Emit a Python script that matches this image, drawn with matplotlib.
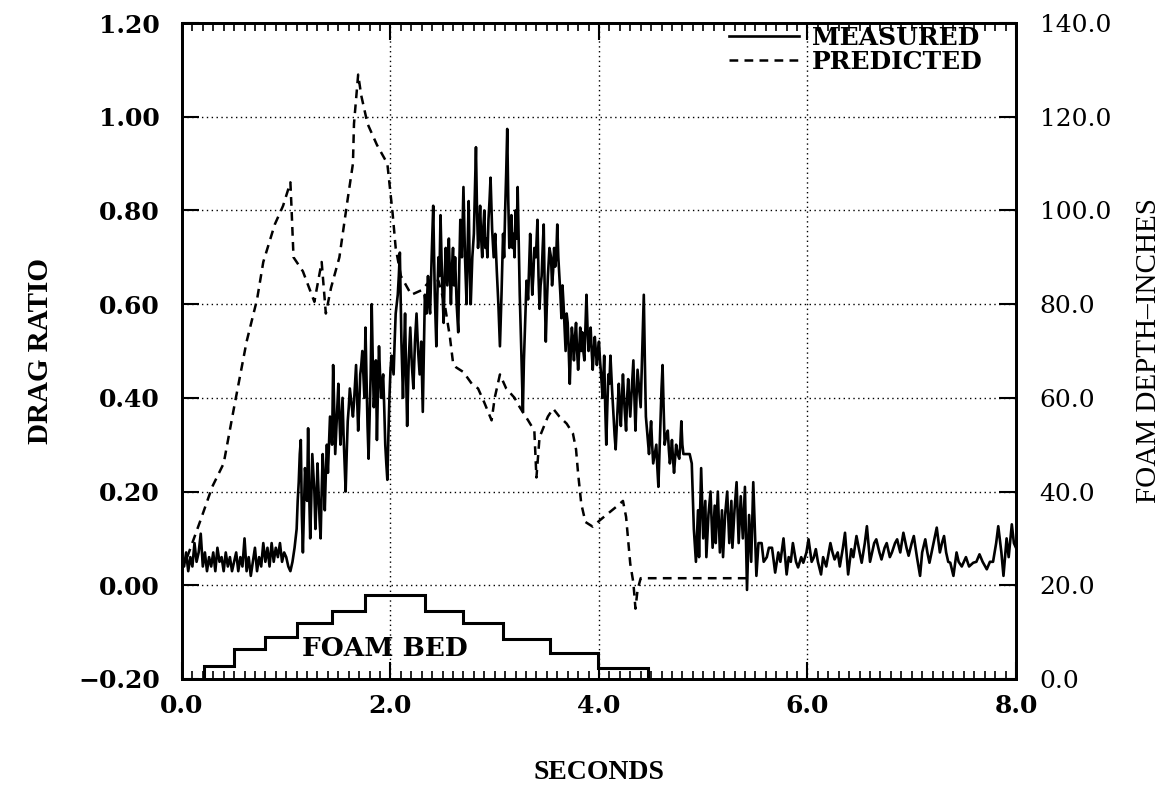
import numpy as np
import matplotlib
matplotlib.use("Agg")
import matplotlib.pyplot as plt
from matplotlib.ticker import MultipleLocator, FormatStrFormatter, FuncFormatter

# measured drag ratio in four stretches
baseline_t = [
    0.00, 0.02, 0.04, 0.06, 0.08, 0.10, 0.12, 0.14, 0.16, 0.18, 0.20, 0.22, 0.24, 0.26,
    0.28, 0.30, 0.32, 0.34, 0.36, 0.38, 0.40, 0.42, 0.44, 0.46, 0.48, 0.50, 0.52, 0.54,
    0.56, 0.58, 0.60, 0.62, 0.64, 0.66, 0.68, 0.70, 0.72, 0.74, 0.76, 0.78, 0.80, 0.82,
    0.84, 0.86, 0.88, 0.90, 0.92, 0.94, 0.96, 0.98, 1.00, 1.02, 1.04, 1.06, 1.08, 1.10,
]
baseline_drag = [
    0.06, 0.04, 0.07, 0.03, 0.06, 0.04, 0.09, 0.05, 0.07, 0.11, 0.04, 0.07, 0.03, 0.06,
    0.04, 0.07, 0.03, 0.08, 0.05, 0.06, 0.03, 0.07, 0.04, 0.06, 0.03, 0.05, 0.07, 0.03,
    0.06, 0.04, 0.10, 0.03, 0.06, 0.02, 0.05, 0.08, 0.03, 0.06, 0.04, 0.09, 0.05, 0.08,
    0.04, 0.09, 0.05, 0.08, 0.06, 0.09, 0.05, 0.07, 0.06, 0.04, 0.03, 0.05, 0.08, 0.12,
]

rise_t = [
    1.11, 1.12, 1.13, 1.14, 1.15, 1.16, 1.17, 1.18, 1.19, 1.20,
    1.21, 1.22, 1.23, 1.24, 1.25, 1.26, 1.27, 1.28, 1.29, 1.30,
    1.31, 1.32, 1.33, 1.34, 1.35, 1.36, 1.37, 1.38, 1.39, 1.40,
    1.41, 1.42, 1.43, 1.44, 1.45, 1.46, 1.47, 1.48, 1.49, 1.50,
    1.51, 1.52, 1.53, 1.54, 1.55, 1.56, 1.57, 1.58, 1.59, 1.60,
    1.61, 1.62, 1.63, 1.64, 1.65, 1.66, 1.67, 1.68, 1.69, 1.70,
    1.71, 1.72, 1.73, 1.74, 1.75, 1.76, 1.77, 1.78, 1.79, 1.80,
    1.81, 1.82, 1.83, 1.84, 1.85, 1.86, 1.87, 1.88, 1.89, 1.90,
    1.91, 1.92, 1.93, 1.94, 1.95, 1.96, 1.97, 1.98, 1.99, 2.00,
    2.01, 2.02, 2.03, 2.04, 2.05, 2.06, 2.07, 2.08,
]
rise_drag = [
    0.18, 0.22, 0.28, 0.31, 0.15, 0.07, 0.16, 0.25, 0.22, 0.18,
    0.335, 0.20, 0.10, 0.18, 0.28, 0.24, 0.20, 0.12, 0.18, 0.26,
    0.20, 0.14, 0.10, 0.20, 0.28, 0.22, 0.16, 0.24, 0.30, 0.24,
    0.30, 0.36, 0.33, 0.30, 0.47, 0.38, 0.28, 0.33, 0.38, 0.43,
    0.36, 0.30, 0.35, 0.40, 0.32, 0.26, 0.20, 0.28, 0.35, 0.38,
    0.42, 0.40, 0.38, 0.36, 0.39, 0.43, 0.47, 0.40, 0.33, 0.38,
    0.45, 0.47, 0.50, 0.45, 0.40, 0.55, 0.44, 0.34, 0.27, 0.36,
    0.45, 0.60, 0.48, 0.38, 0.42, 0.48, 0.31, 0.42, 0.51, 0.45,
    0.40, 0.43, 0.45, 0.38, 0.30, 0.26, 0.225, 0.32, 0.40, 0.46,
    0.49, 0.47, 0.45, 0.52, 0.58, 0.60, 0.62, 0.66,
]

peak_t = [
    2.09, 2.105, 2.12, 2.13, 2.14, 2.15, 2.16, 2.175, 2.19, 2.205,
    2.22, 2.235, 2.25, 2.265, 2.28, 2.295, 2.31, 2.32, 2.33, 2.345,
    2.36, 2.37, 2.38, 2.395, 2.41, 2.425, 2.44, 2.45, 2.46, 2.47,
    2.48, 2.495, 2.51, 2.52, 2.53, 2.545, 2.56, 2.57, 2.58, 2.59,
    2.60, 2.61, 2.62, 2.635, 2.65, 2.66, 2.67, 2.685, 2.70, 2.715,
    2.73, 2.74, 2.75, 2.76, 2.77, 2.785, 2.80, 2.81, 2.82, 2.83,
    2.84, 2.85, 2.86, 2.87, 2.88, 2.89, 2.90, 2.91, 2.92, 2.93,
    2.94, 2.95, 2.96, 2.975, 2.99, 3.005, 3.02, 3.035, 3.05, 3.065,
    3.08, 3.09, 3.10, 3.11, 3.12, 3.13, 3.14, 3.15, 3.16, 3.17,
    3.18, 3.19, 3.20, 3.21, 3.22, 3.23, 3.24, 3.255, 3.27, 3.28,
    3.29, 3.305, 3.32, 3.33, 3.34, 3.35, 3.36, 3.37, 3.38, 3.395,
    3.41, 3.42, 3.43, 3.44, 3.45, 3.46, 3.47, 3.48, 3.49, 3.50,
    3.51, 3.525, 3.54, 3.55, 3.56, 3.57, 3.58, 3.59, 3.60, 3.61,
    3.62, 3.63, 3.64, 3.65, 3.66, 3.67, 3.68, 3.69, 3.70, 3.71,
    3.72, 3.73, 3.74, 3.75, 3.76, 3.77, 3.78, 3.79, 3.80, 3.81,
    3.82, 3.83, 3.84, 3.85, 3.86, 3.87, 3.88, 3.89, 3.90, 3.91,
    3.92, 3.93, 3.94, 3.95, 3.96, 3.97, 3.98, 3.99, 4.00, 4.01,
    4.02, 4.035, 4.05, 4.06, 4.07, 4.08, 4.09, 4.10, 4.11, 4.125,
    4.14, 4.15, 4.16, 4.175, 4.19, 4.20, 4.21, 4.22, 4.23, 4.245,
    4.26, 4.27, 4.28, 4.29, 4.30, 4.315, 4.33, 4.34, 4.35, 4.36,
    4.37, 4.385, 4.40, 4.415, 4.43, 4.44, 4.45, 4.465, 4.48, 4.49,
    4.50, 4.51, 4.52, 4.535, 4.55, 4.56, 4.57, 4.58, 4.59, 4.60,
    4.61, 4.62, 4.63, 4.645, 4.66, 4.67, 4.68, 4.69, 4.70, 4.71,
    4.72, 4.73, 4.74, 4.755, 4.77, 4.78, 4.79, 4.80, 4.81, 4.84,
    4.87, 4.89,
]
peak_drag = [
    0.71, 0.52, 0.40, 0.50, 0.58, 0.45, 0.34, 0.48, 0.55, 0.47,
    0.42, 0.52, 0.58, 0.50, 0.45, 0.52, 0.37, 0.50, 0.62, 0.58,
    0.66, 0.60, 0.58, 0.70, 0.81, 0.62, 0.51, 0.62, 0.70, 0.66,
    0.79, 0.65, 0.56, 0.66, 0.72, 0.64, 0.74, 0.66, 0.60, 0.68,
    0.72, 0.64, 0.70, 0.60, 0.54, 0.68, 0.78, 0.70, 0.85, 0.70,
    0.60, 0.72, 0.82, 0.68, 0.60, 0.70, 0.75, 0.84, 0.935, 0.80,
    0.72, 0.76, 0.81, 0.74, 0.70, 0.76, 0.80, 0.72, 0.74, 0.70,
    0.78, 0.82, 0.87, 0.76, 0.70, 0.75, 0.67, 0.60, 0.51, 0.62,
    0.75, 0.70, 0.80, 0.88, 0.974, 0.82, 0.72, 0.76, 0.79, 0.72,
    0.75, 0.70, 0.80, 0.74, 0.85, 0.74, 0.62, 0.50, 0.37, 0.48,
    0.55, 0.65, 0.61, 0.68, 0.75, 0.68, 0.62, 0.66, 0.72, 0.70,
    0.78, 0.66, 0.59, 0.64, 0.66, 0.72, 0.77, 0.62, 0.52, 0.60,
    0.66, 0.72, 0.70, 0.64, 0.67, 0.72, 0.68, 0.70, 0.77, 0.70,
    0.66, 0.62, 0.57, 0.64, 0.60, 0.55, 0.50, 0.58, 0.56, 0.50,
    0.43, 0.50, 0.55, 0.52, 0.48, 0.53, 0.56, 0.50, 0.46, 0.50,
    0.55, 0.50, 0.54, 0.50, 0.48, 0.55, 0.62, 0.55, 0.50, 0.53,
    0.55, 0.50, 0.46, 0.50, 0.53, 0.50, 0.47, 0.50, 0.52, 0.48,
    0.45, 0.40, 0.49, 0.38, 0.30, 0.38, 0.45, 0.43, 0.49, 0.42,
    0.36, 0.32, 0.29, 0.36, 0.43, 0.38, 0.34, 0.40, 0.45, 0.38,
    0.33, 0.40, 0.44, 0.40, 0.36, 0.42, 0.48, 0.40, 0.33, 0.40,
    0.46, 0.42, 0.38, 0.50, 0.62, 0.48, 0.36, 0.32, 0.28, 0.32,
    0.35, 0.30, 0.26, 0.28, 0.30, 0.25, 0.21, 0.28, 0.35, 0.42,
    0.47, 0.38, 0.30, 0.32, 0.33, 0.29, 0.26, 0.28, 0.31, 0.27,
    0.24, 0.27, 0.30, 0.28, 0.27, 0.30, 0.35, 0.30, 0.28, 0.28,
    0.28, 0.26,
]

tail_t = [
    4.91, 4.93, 4.95, 4.96, 4.98, 5.00, 5.02, 5.03, 5.05, 5.07, 5.09, 5.11, 5.12, 5.14,
    5.16, 5.18, 5.19, 5.21, 5.23, 5.25, 5.27, 5.28, 5.30, 5.32, 5.34, 5.36, 5.38, 5.40,
    5.42, 5.44, 5.46, 5.48, 5.51, 5.53, 5.56, 5.58, 5.61, 5.63, 5.66, 5.69, 5.72, 5.74,
    5.77, 5.80, 5.82, 5.84, 5.86, 5.89, 5.91, 5.94, 5.96, 5.99, 6.01, 6.04, 6.06, 6.08,
    6.10, 6.13, 6.15, 6.18, 6.22, 6.24, 6.26, 6.29, 6.31, 6.34, 6.36, 6.39, 6.42, 6.44,
    6.47, 6.50, 6.52, 6.55, 6.57, 6.60, 6.62, 6.64, 6.66, 6.69, 6.71, 6.74, 6.76, 6.79,
    6.81, 6.84, 6.86, 6.89, 6.92, 6.95, 6.97, 7.00, 7.02, 7.05, 7.08, 7.10, 7.13, 7.15,
    7.17, 7.20, 7.24, 7.27, 7.29, 7.31, 7.33, 7.35, 7.37, 7.40, 7.43, 7.45, 7.48, 7.50,
    7.52, 7.55, 7.59, 7.62, 7.65, 7.68, 7.72, 7.75, 7.78, 7.81, 7.83, 7.86, 7.88, 7.91,
    7.93, 7.96, 7.98, 8.00,
]
tail_drag = [
    0.12, 0.05, 0.16, 0.06, 0.25, 0.10, 0.18, 0.06, 0.15, 0.20, 0.08, 0.17, 0.09, 0.20,
    0.07, 0.16, 0.06, 0.15, 0.20, 0.09, 0.18, 0.08, 0.16, 0.22, 0.09, 0.19, 0.10, 0.21,
    -0.01, 0.15, 0.05, 0.22, 0.02, 0.09, 0.09, 0.05, 0.06, 0.08, 0.08, 0.027, 0.07, 0.05,
    0.10, 0.023, 0.06, 0.05, 0.09, 0.05, 0.038, 0.06, 0.048, 0.07, 0.098, 0.05, 0.059, 0.077,
    0.05, 0.023, 0.06, 0.04, 0.09, 0.07, 0.055, 0.07, 0.04, 0.08, 0.112, 0.023, 0.077, 0.06,
    0.105, 0.07, 0.048, 0.09, 0.126, 0.05, 0.07, 0.09, 0.098, 0.07, 0.055, 0.08, 0.09, 0.06,
    0.07, 0.09, 0.098, 0.07, 0.112, 0.08, 0.063, 0.09, 0.105, 0.06, 0.02, 0.07, 0.098, 0.07,
    0.048, 0.08, 0.123, 0.07, 0.09, 0.105, 0.07, 0.05, 0.048, 0.02, 0.07, 0.05, 0.04, 0.05,
    0.06, 0.04, 0.048, 0.05, 0.066, 0.05, 0.034, 0.05, 0.05, 0.09, 0.126, 0.07, 0.02, 0.10,
    0.06, 0.13, 0.09, 0.08,
]

# predicted drag ratio
predicted_t = [
    0.05, 0.18, 0.29, 0.40, 0.50, 0.62, 0.72, 0.78, 0.89, 0.97, 1.04, 1.05, 1.07, 1.16,
    1.27, 1.34, 1.38, 1.43, 1.51, 1.59, 1.64, 1.65, 1.69, 1.72, 1.78, 1.87, 1.97, 2.02,
    2.05, 2.10, 2.20, 2.30, 2.40, 2.46, 2.52, 2.57, 2.60, 2.63, 2.70, 2.78, 2.84, 2.90,
    2.97, 3.00, 3.05, 3.11, 3.19, 3.24, 3.32, 3.38, 3.40, 3.43, 3.51, 3.56, 3.62, 3.69,
    3.75, 3.78, 3.80, 3.83, 3.87, 3.94, 4.01, 4.07, 4.18, 4.23, 4.26, 4.30, 4.33, 4.35,
    4.37, 4.40, 5.45,
]
predicted_drag = [
    0.06, 0.14, 0.21, 0.26, 0.38, 0.52, 0.61, 0.69, 0.77, 0.81, 0.86, 0.81, 0.70, 0.67,
    0.605, 0.69, 0.58, 0.635, 0.70, 0.825, 0.90, 0.985, 1.09, 1.045, 0.985, 0.94, 0.90, 0.795,
    0.72, 0.66, 0.62, 0.63, 0.655, 0.65, 0.60, 0.53, 0.475, 0.465, 0.455, 0.43, 0.42, 0.39,
    0.352, 0.40, 0.45, 0.42, 0.40, 0.38, 0.352, 0.33, 0.23, 0.316, 0.36, 0.377, 0.36, 0.345,
    0.324, 0.29, 0.238, 0.174, 0.135, 0.125, 0.139, 0.15, 0.17, 0.18, 0.146, 0.046, 0.005, -0.05,
    -0.01, 0.015, 0.015,
]

# foam bed outline (inches, right axis)
foam_edges = [0.21, 0.50, 0.80, 1.10, 1.44, 1.76, 2.33, 2.70, 3.08, 3.53, 3.99, 4.47]
foam_depth = [2.8, 6.3, 9.0, 12.0, 14.5, 17.9, 14.5, 12.0, 8.5, 5.5, 2.3]

measured_t = baseline_t + rise_t + peak_t + tail_t
measured_drag = baseline_drag + rise_drag + peak_drag + tail_drag

serif = ["DejaVu Serif"]
times = ["Liberation Serif"]

fig = plt.figure(figsize=(11.74, 7.95), dpi=100)
ax = fig.add_axes([0.155, 0.146, 0.7104, 0.825])
ax2 = ax.twinx()

ax.plot(measured_t, measured_drag, color="black", lw=1.9, label="MEASURED")
ax.plot(predicted_t, predicted_drag, color="black", lw=1.8, dashes=(3.5, 2.5),
        label="PREDICTED")
ax2.stairs(foam_depth, foam_edges, baseline=0, color="black", lw=2.2)

ax.set_xlim(0, 8)
ax.set_ylim(-0.2, 1.2)
ax2.set_ylim(0, 140)

ax.xaxis.set_major_locator(MultipleLocator(2))
ax.xaxis.set_minor_locator(MultipleLocator(0.1))
ax.yaxis.set_major_locator(MultipleLocator(0.2))
ax.xaxis.set_major_formatter(FormatStrFormatter("%.1f"))
ax.yaxis.set_major_formatter(FuncFormatter(lambda v, p: f"{v:.2f}".replace("-", "\u2212")))
ax2.yaxis.set_major_locator(MultipleLocator(20))
ax2.yaxis.set_major_formatter(FormatStrFormatter("%.1f"))

ax.tick_params(axis="x", which="both", direction="in", top=True, bottom=True)
ax.tick_params(axis="x", which="major", length=12, width=1.5, pad=11)
ax.tick_params(axis="x", which="minor", length=6, width=1.2)
ax.tick_params(axis="y", which="major", direction="in", length=12, width=1.5, pad=16,
               right=False)
ax2.tick_params(axis="y", which="major", direction="in", length=12, width=1.5, pad=17)

for lab in ax.get_xticklabels() + ax.get_yticklabels():
    lab.set_family(serif)
    lab.set_fontweight("bold")
    lab.set_fontsize(18)
for lab in ax2.get_yticklabels():
    lab.set_family(serif)
    lab.set_fontsize(18)

for a in (ax, ax2):
    for s in a.spines.values():
        s.set_linewidth(2)

ax.grid(True, which="major", linestyle=(0, (1, 2.5)), color="black", lw=1)

ax.set_xlabel("SECONDS", family=times, fontweight="bold", fontsize=20, labelpad=30)
ax.set_ylabel("DRAG RATIO", family=times, fontweight="bold", fontsize=21, labelpad=17)
ax2.set_ylabel("FOAM DEPTH\u2013INCHES", family=times, fontsize=21, labelpad=18)

ax.text(1.95, -0.135, "FOAM BED", family=serif, fontweight="bold", fontsize=19,
        ha="center", va="center")

leg = ax.legend(loc="upper right", bbox_to_anchor=(0.975, 1.015), frameon=False,
                handlelength=2.8, handletextpad=0.5, borderaxespad=0.1, labelspacing=0.0,
                prop={"family": serif, "weight": "bold", "size": 18})

fig.savefig("out.png", dpi=100)
